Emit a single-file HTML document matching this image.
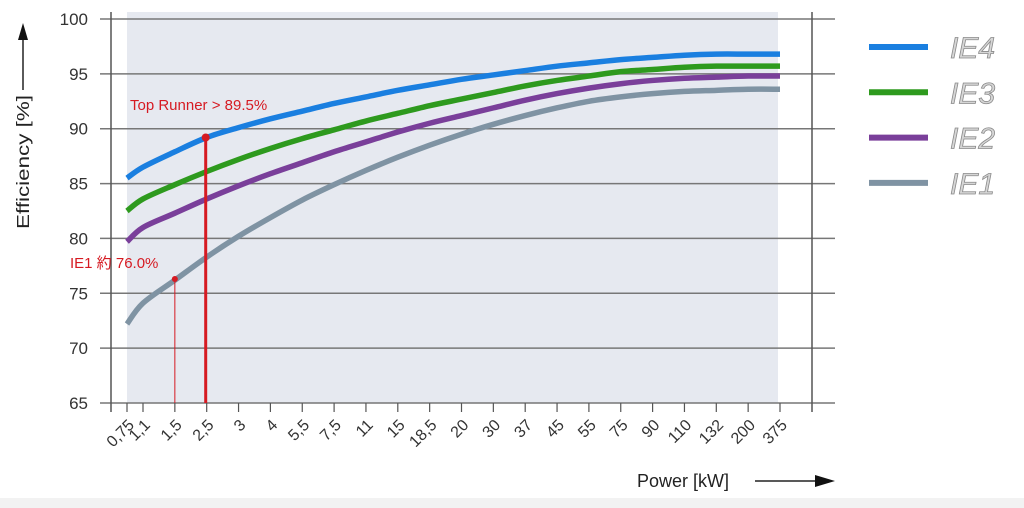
<!DOCTYPE html>
<html><head><meta charset="utf-8"><style>
body{margin:0;background:#fff;}
svg{display:block;font-family:"Liberation Sans","Noto Sans CJK JP",sans-serif;}
</style></head><body>
<svg id="chart" width="1024" height="508" viewBox="0 0 1024 508">
<rect x="0" y="0" width="1024" height="508" fill="#fff"/>
<rect x="0" y="498" width="1024" height="10" fill="#f2f2f2"/>
<rect x="127" y="12" width="651" height="391" fill="#e6e9f0"/>
<g id="grid"></g><g id="xaxis"></g><g id="series"></g><g id="annot"></g>
<g>
<text x="0" y="0" transform="translate(29,229) rotate(-90)" font-size="17.5" fill="#222" textLength="134" lengthAdjust="spacingAndGlyphs">Efficiency [%]</text>
<line x1="23" y1="90" x2="23" y2="38" stroke="#222" stroke-width="1.5"/>
<polygon points="18,40 28,40 23,23" fill="#111"/>
</g>
<g>
<text x="637" y="487" font-size="18" fill="#222">Power [kW]</text>
<line x1="755" y1="481" x2="818" y2="481" stroke="#222" stroke-width="1.5"/>
<polygon points="815,475 815,487 835,481" fill="#111"/>
</g>
<g id="legend"></g>
</svg>
<script>
const categories=["0,75","1,1","1,5","2,5","3","4","5,5","7,5","11","15","18,5","20","30","37","45","55","75","90","110","132","200","375"];
const yTicks=[65,70,75,80,85,90,95,100];
const ie4=[85.5,86.5,87.9,89.2,90.1,90.9,91.6,92.3,92.9,93.5,94.0,94.5,94.9,95.3,95.7,96.0,96.3,96.5,96.7,96.8,96.8,96.8];
const ie3=[82.5,83.6,84.9,86.1,87.2,88.2,89.1,89.9,90.7,91.4,92.1,92.7,93.3,93.9,94.4,94.8,95.2,95.4,95.6,95.7,95.7,95.7];
const ie2=[79.7,81.0,82.3,83.6,84.8,85.9,86.9,87.9,88.8,89.7,90.5,91.2,91.9,92.6,93.2,93.7,94.1,94.4,94.6,94.7,94.8,94.8];
const ie1=[72.2,74.1,76.2,78.3,80.2,81.9,83.5,84.9,86.2,87.4,88.5,89.5,90.4,91.2,91.9,92.5,92.9,93.2,93.4,93.5,93.6,93.6];
const seriesNames=["IE4","IE3","IE2","IE1"];
const topRunnerValue=89.2, topRunnerIndex=3, ie1Value=76.3, ie1Index=2;

const NS="http://www.w3.org/2000/svg";
function el(t,a,p){const e=document.createElementNS(NS,t);for(const k in a)e.setAttribute(k,a[k]);p.appendChild(e);return e;}
function xs(i){return i===0?127:143+31.85*(i-1);}
function ys(v){return 403-(v-65)*(384/35);}
const grid=document.getElementById('grid');
yTicks.forEach(v=>{
  const l=el('line',{x1:100,x2:835,y1:ys(v),y2:ys(v),stroke:'#777','stroke-width':1.5},grid);
  
  
  const t=el('text',{x:88,y:ys(v)+6,'text-anchor':'end','font-size':17,fill:'#333'},grid);
  t.textContent=v;
  
  
});
const ax=document.getElementById('xaxis');
const la=el('line',{x1:111,x2:111,y1:12,y2:412,stroke:'#555','stroke-width':1.5},ax);


const ra=el('line',{x1:812,x2:812,y1:12,y2:412,stroke:'#555','stroke-width':1.5},ax);


categories.forEach((c,i)=>{
  const x=xs(i);
  const tk=el('line',{x1:x,x2:x,y1:403,y2:412,stroke:'#555','stroke-width':1.2},ax);
  
  
  const t=el('text',{x:0,y:0,transform:`translate(${x+8},${426}) rotate(-45)`,'text-anchor':'end','font-size':16,fill:'#333'},ax);
  t.textContent=c;
  
  
});
const colors=["#1a7fe0","#2e9a1e","#7a3f9a","#7f93a3"];
const data=[ie4,ie3,ie2,ie1];
const sg=document.getElementById('series');
data.forEach((arr,s)=>{
  const pts=arr.map((v,i)=>[xs(i),ys(v)]);
  let d='M'+pts[0][0]+','+pts[0][1];
  for(let i=0;i<pts.length-1;i++){
    const p0=pts[Math.max(0,i-1)],p1=pts[i],p2=pts[i+1],p3=pts[Math.min(pts.length-1,i+2)];
    d+=` C${p1[0]+(p2[0]-p0[0])/6},${p1[1]+(p2[1]-p0[1])/6} ${p2[0]-(p3[0]-p1[0])/6},${p2[1]-(p3[1]-p1[1])/6} ${p2[0]},${p2[1]}`;
  }
  const p=el('path',{d:d,fill:'none',stroke:colors[s],'stroke-width':5.5,'stroke-linejoin':'round'},sg);
  
  
});
const an=document.getElementById('annot');
const l1=el('line',{x1:xs(topRunnerIndex)-1,x2:xs(topRunnerIndex)-1,y1:ys(topRunnerValue),y2:403,stroke:'#d61a22','stroke-width':3},an);


const c1=el('circle',{cx:xs(topRunnerIndex)-1,cy:ys(topRunnerValue),r:4,fill:'#d61a22'},an);


const t1=el('text',{x:130,y:110,'font-size':15,fill:'#d61a22'},an);
t1.textContent='Top Runner > 89.5%';


const l2=el('line',{x1:xs(ie1Index),x2:xs(ie1Index),y1:ys(ie1Value),y2:403,stroke:'#d61a22','stroke-width':1},an);


const c2=el('circle',{cx:xs(ie1Index),cy:ys(ie1Value),r:3,fill:'#d61a22'},an);


const t2=el('text',{x:70,y:268,'font-size':15,fill:'#d61a22'},an);
t2.textContent='IE1 約 76.0%';


const lg=document.getElementById('legend');
seriesNames.forEach((n,s)=>{
  const y=47+45.3*s;
  const l=el('line',{x1:869,x2:928,y1:y,y2:y,stroke:colors[s],'stroke-width':6},lg);
  
  
  const t=el('text',{x:950,y:y+11,'font-size':30,'font-style':'italic',fill:'#d6d6d6',stroke:'#8a8a8a','stroke-width':0.8},lg);
  t.textContent=n;
  
  
});
</script>
</body></html>
